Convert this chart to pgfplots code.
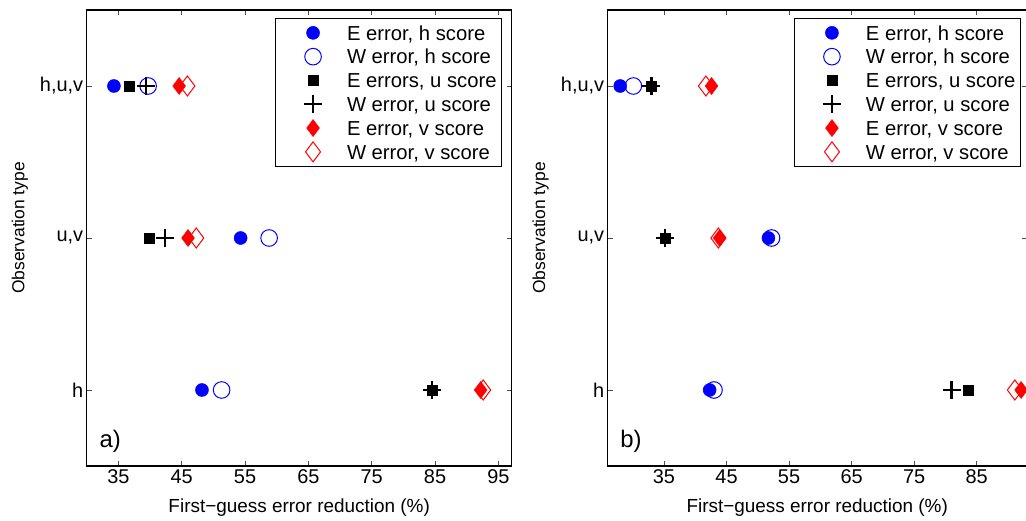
\documentclass[border=0pt]{standalone}
\usepackage{pgfplots}
\pgfplotsset{compat=1.18}
\usepackage{fontspec}
\setmainfont{Liberation Sans}
\usetikzlibrary{plotmarks}
\definecolor{mblue}{RGB}{0,0,255}
\definecolor{mred}{RGB}{255,0,0}
\begin{document}
\begin{tikzpicture}[x=1bp,y=1bp]
\pgfplotsset{
  myax/.style={
    scale only axis, height=456bp,
    ymin=0.5, ymax=3.5, ytick={1,2,3}, yticklabels={h,{u,v},{h,u,v}},
    tick align=inside, major tick length=5bp,
    tick style={line width=0.6bp, black!70},
    axis line style={line width=1.2bp},
    /pgf/number format/assume math mode=true,
    tick label style={font=\fontsize{20}{24}\selectfont},
    xlabel={First\textminus guess error reduction (\%)},
    ylabel={Observation type},
    every axis x label/.style={at={(axis description cs:0.5,0)}, anchor=center, yshift=-42bp, font=\fontsize{19}{23}\selectfont},
    legend cell align=left,
    legend style={anchor=north east, font=\fontsize{20.3}{24}\selectfont,
      draw=black, line width=0.8bp, inner xsep=3bp, inner ysep=2.5bp, row sep=0.3bp,
      nodes={inner sep=2bp, text height=17bp, text depth=2.5bp}},
    legend image code/.code={\path[draw=none,fill=none] (-35bp,-1bp) rectangle (32bp,1bp); \draw[##1] plot coordinates {(0bp,0bp)};},
    clip=false,
  },
  eh/.style={only marks, mark=*, mark size=6.5bp, mblue, mark options={fill=mblue, draw=mblue, line width=0.5bp}},
  wh/.style={only marks, mark=o, mark size=8.3bp, mblue, mark options={draw=mblue, line width=1bp}},
  eu/.style={only marks, mark=square*, mark size=5bp, black, mark options={fill=black, line width=0.5bp}},
  wu/.style={only marks, mark=+, mark size=9bp, black, mark options={line width=2.4bp}},
  ev/.style={only marks, mark=diamond*, mark size=8.5bp, mred, mark options={fill=mred, draw=mred, line width=0.5bp}},
  wv/.style={only marks, mark=diamond, mark size=10bp, mred, mark options={draw=mred, line width=1bp}},
}
% ---------------- a) ----------------
\begin{axis}[myax, at={(86.7bp,55bp)}, anchor=south west, width=425bp,
  xmin=30, xmax=97.1, xtick={35,45,...,95},
  every axis y label/.style={at={(axis description cs:-0.157,0.522)}, anchor=center, rotate=90, font=\fontsize{17.5}{21}\selectfont},
  legend style={at={(rel axis cs:0.977,0.982)}},
]
\addplot[eh] coordinates {(48.2,1) (54.3,2) (34.3,3)};
\addplot[wh] coordinates {(51.3,1) (58.8,2) (39.7,3)};
\addplot[eu] coordinates {(84.5,1) (39.8,2) (36.7,3)};
\addplot[wu] coordinates {(84.5,1) (42.4,2) (39.4,3)};
\addplot[ev] coordinates {(92.2,1) (46.0,2) (44.6,3)};
\addplot[wv] coordinates {(92.6,1) (47.3,2) (45.9,3)};
\legend{E error{,} h score, W error{,} h score, E errors{,} u score, W error{,} u score, E error{,} v score, W error{,} v score}
\node[anchor=base west, font=\fontsize{24}{28}\selectfont] at (rel axis cs:0.022,0.04) {a)};
\end{axis}
% ---------------- b) ----------------
\begin{axis}[myax, at={(607.7bp,55bp)}, anchor=south west, width=419bp,
  xmin=26, xmax=93, xtick={35,45,...,85},
  every axis y label/.style={at={(axis description cs:-0.16,0.522)}, anchor=center, rotate=90, font=\fontsize{17.5}{21}\selectfont},
  legend style={at={(rel axis cs:0.986,0.982)}},
]
\addplot[eh] coordinates {(42.3,1) (51.7,2) (28.0,3)};
\addplot[wh] coordinates {(43.0,1) (52.2,2) (30.1,3)};
\addplot[eu] coordinates {(83.6,1) (35.2,2) (33.0,3)};
\addplot[wu] coordinates {(81.0,1) (35.2,2) (33.0,3)};
\addplot[ev] coordinates {(92.1,1) (43.9,2) (42.6,3)};
\addplot[wv] coordinates {(91.1,1) (43.7,2) (41.7,3)};
\legend{E error{,} h score, W error{,} h score, E errors{,} u score, W error{,} u score, E error{,} v score, W error{,} v score}
\node[anchor=base west, font=\fontsize{24}{28}\selectfont] at (rel axis cs:0.022,0.04) {b)};
\end{axis}
\pgfresetboundingbox
\useasboundingbox (0bp,0bp) rectangle (1026bp,521bp);
\end{tikzpicture}
\end{document}
